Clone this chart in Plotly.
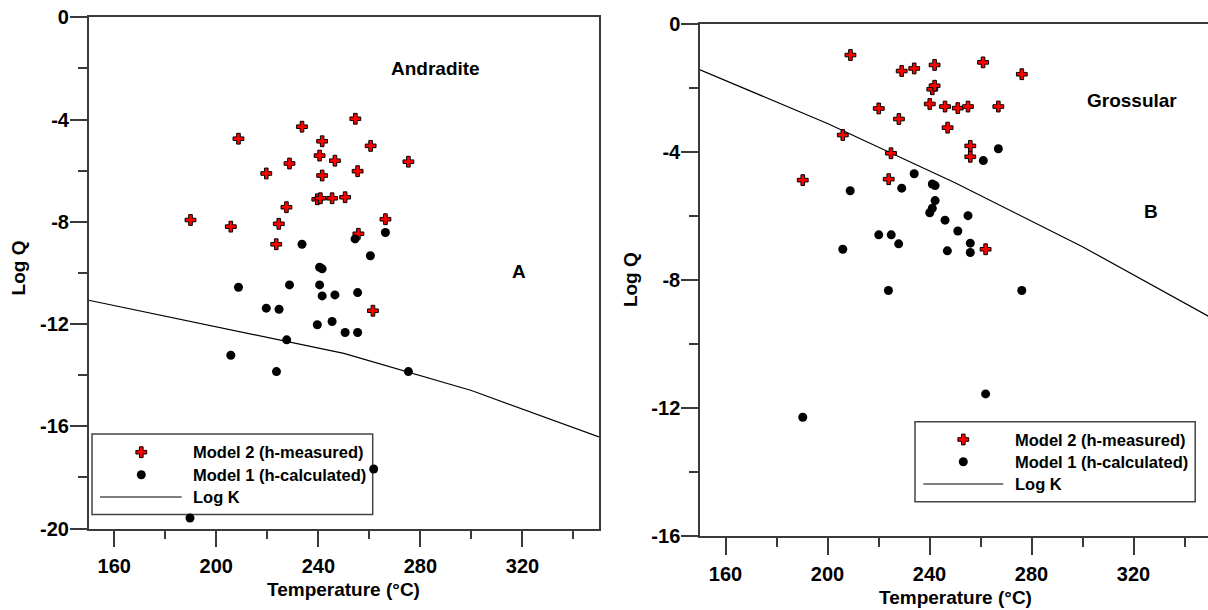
import plotly.graph_objects as go

W, H = 1208, 610

# ---------------- data ----------------
# Panel A: Andradite
and_m2_temp = [189.9, 205.7, 208.7, 219.6, 223.5, 224.5, 227.5, 228.7, 233.6, 239.6, 240.8, 240.5,
               241.5, 241.5, 245.4, 246.5, 250.5, 254.5, 255.4, 255.7, 260.5, 261.4, 266.3, 275.3]
and_m2_logq = [-7.93, -8.19, -4.75, -6.11, -8.88, -8.08, -7.43, -5.72, -4.28, -7.12, -7.08, -5.41,
               -4.85, -6.19, -7.08, -5.61, -7.04, -3.97, -6.02, -8.47, -5.03, -11.48, -7.90, -5.65]
and_m1_temp = [189.7, 205.7, 208.7, 219.6, 223.6, 224.6, 227.6, 228.7, 233.6, 239.6, 240.5, 241.5,
               240.5, 241.5, 245.4, 246.5, 250.5, 254.4, 255.4, 255.4, 260.4, 261.7, 266.3, 275.3]
and_m1_logq = [-19.59, -13.22, -10.56, -11.38, -13.86, -11.42, -12.62, -10.47, -8.88, -12.03, -9.78, -9.84,
               -10.47, -10.90, -11.90, -10.86, -12.33, -8.67, -10.77, -12.33, -9.33, -17.67, -8.42, -13.86]

# Panel B: Grossular
gro_m2_temp = [190.3, 206.0, 209.0, 220.1, 224.0, 224.9, 228.0, 229.1, 234.0, 240.1, 241.1, 242.0,
               242.0, 246.1, 247.1, 251.1, 255.1, 256.0, 256.0, 261.0, 262.0, 267.0, 276.2]
gro_m2_logq = [-4.87, -3.46, -0.96, -2.63, -4.84, -4.03, -2.96, -1.46, -1.38, -2.49, -2.03, -1.92,
               -1.27, -2.57, -3.23, -2.62, -2.57, -3.80, -4.14, -1.19, -7.03, -2.57, -1.56]
gro_m1_temp = [190.3, 206.0, 208.9, 220.1, 223.9, 225.0, 227.9, 229.1, 234.0, 240.1, 241.1, 241.1,
               242.2, 242.2, 246.1, 247.0, 251.1, 255.1, 256.0, 256.0, 261.1, 262.0, 267.0, 276.2]
gro_m1_logq = [-12.28, -7.03, -5.20, -6.58, -8.32, -6.58, -6.86, -5.12, -4.67, -5.89, -5.75, -4.99,
               -5.04, -5.51, -6.12, -7.08, -6.46, -5.98, -6.84, -7.13, -4.26, -11.55, -3.89, -8.32]

# Log K curves
logk_temp = [150, 200, 250, 300, 350]
logk_and = [-11.07, -12.10, -13.15, -14.60, -16.42]
logk_gro = [-1.42, -3.10, -4.95, -6.95, -9.15]

# tick labels (plain hyphen minus, as in the source)
x_tick_vals = [160, 200, 240, 280, 320]
x_tick_text = ["160", "200", "240", "280", "320"]
y_tick_vals_a = [0, -4, -8, -12, -16, -20]
y_tick_text_a = ["0", "-4", "-8", "-12", "-16", "-20"]
y_tick_vals_b = [0, -4, -8, -12, -16]
y_tick_text_b = ["0", "-4", "-8", "-12", "-16"]

series_names = ["Model 2 (h-measured)", "Model 1 (h-calculated)", "Log K"]

# ---------------- styling helpers ----------------
FONT = "Liberation Sans, Arial, sans-serif"
AXC = "#3a3a3a"


def px(x):
    return x / W


def py(y):
    return 1 - y / H


cross_marker = dict(symbol="cross", size=9, color="#ff0000", line=dict(color="black", width=1))
dot_marker = dict(symbol="circle", size=9, color="black", line=dict(width=0))

fig = go.Figure()

panels = [
    dict(xa="x", ya="y", logk=logk_and, m2=(and_m2_temp, and_m2_logq), m1=(and_m1_temp, and_m1_logq)),
    dict(xa="x2", ya="y2", logk=logk_gro, m2=(gro_m2_temp, gro_m2_logq), m1=(gro_m1_temp, gro_m1_logq)),
]
for p in panels:
    fig.add_trace(go.Scatter(x=logk_temp, y=p["logk"], mode="lines", line=dict(color="black", width=1.2),
                             xaxis=p["xa"], yaxis=p["ya"], showlegend=False, hoverinfo="skip"))
    fig.add_trace(go.Scatter(x=p["m2"][0], y=p["m2"][1], mode="markers", marker=cross_marker,
                             xaxis=p["xa"], yaxis=p["ya"], showlegend=False))
    fig.add_trace(go.Scatter(x=p["m1"][0], y=p["m1"][1], mode="markers", marker=dot_marker,
                             xaxis=p["xa"], yaxis=p["ya"], showlegend=False))


def xaxis_cfg(domain, rng):
    return dict(domain=domain, range=rng, showline=True, linecolor=AXC, linewidth=1.5, mirror=True,
                ticks="outside", ticklen=17, tickwidth=1.5, tickcolor=AXC,
                tickmode="array", tickvals=x_tick_vals, ticktext=x_tick_text,
                minor=dict(ticks="outside", ticklen=9, tickwidth=1.5, tickcolor=AXC, tick0=160, dtick=20),
                showgrid=False, zeroline=False, ticklabelstandoff=2, automargin=False,
                tickfont=dict(family=FONT, size=20, color="black", weight="bold"), fixedrange=True)


def yaxis_cfg(domain, rng, anchor, mirror, vals, text):
    return dict(domain=domain, range=rng, anchor=anchor, showline=True, linecolor=AXC, linewidth=1.5,
                mirror=mirror, ticks="outside", ticklen=17, tickwidth=1.5, tickcolor=AXC,
                tickmode="array", tickvals=vals, ticktext=text,
                minor=dict(ticks="outside", ticklen=9, tickwidth=1.5, tickcolor=AXC, tick0=0, dtick=2),
                showgrid=False, zeroline=False, ticklabelstandoff=-3, automargin=False,
                tickfont=dict(family=FONT, size=20, color="black", weight="bold"), fixedrange=True)


right_end = 150 + (W - 700) / 2.55

fig.update_layout(
    template="none",
    width=W, height=H, margin=dict(l=0, r=0, t=0, b=0, autoexpand=False),
    paper_bgcolor="white", plot_bgcolor="rgba(0,0,0,0)", showlegend=False,
    xaxis=dict(**xaxis_cfg([px(88.7), px(599)], [150, 350]), anchor="y"),
    yaxis=yaxis_cfg([py(528.5), py(17.3)], [-20, 0], "x", True, y_tick_vals_a, y_tick_text_a),
    xaxis2=dict(**xaxis_cfg([px(700), 1.0], [150, right_end]), anchor="y2"),
    yaxis2=yaxis_cfg([py(536.3), py(24.3)], [-16, 0], "x2", False, y_tick_vals_b, y_tick_text_b),
    xaxis3=dict(domain=[0, 1], range=[0, W], visible=False, anchor="y3", fixedrange=True, automargin=False),
    yaxis3=dict(domain=[0, 1], range=[H, 0], visible=False, anchor="x3", fixedrange=True, automargin=False),
)

# ---------------- manual legends ----------------
legends = [
    dict(box=(92, 434, 372.7, 514.5), sym_x=141.3, line=(100, 181.7), text_x=190.7, rows=(452.2, 474.7, 497)),
    dict(box=(915, 421.7, 1195.2, 501.7), sym_x=963.3, line=(923.3, 1003.3), text_x=1013.3, rows=(439.5, 461.7, 484)),
]
shapes = []
annotations = []
tf = dict(family=FONT, size=16.5, color="black", weight="bold")
for lg in legends:
    x0, y0, x1, y1 = lg["box"]
    shapes.append(dict(type="rect", xref="paper", yref="paper", x0=px(x0), x1=px(x1), y0=py(y1), y1=py(y0),
                       line=dict(color="#444", width=1.5), fillcolor="white", layer="below"))
    r = lg["rows"]
    shapes.append(dict(type="line", xref="paper", yref="paper", x0=px(lg["line"][0]), x1=px(lg["line"][1]),
                       y0=py(r[2]), y1=py(r[2]), line=dict(color="black", width=1.2), layer="below"))
    fig.add_trace(go.Scatter(x=[lg["sym_x"]], y=[r[0]], mode="markers", marker=cross_marker,
                             xaxis="x3", yaxis="y3", showlegend=False, hoverinfo="skip"))
    fig.add_trace(go.Scatter(x=[lg["sym_x"]], y=[r[1]], mode="markers", marker=dot_marker,
                             xaxis="x3", yaxis="y3", showlegend=False, hoverinfo="skip"))
    for name, yy in zip(series_names, r):
        annotations.append(dict(text=name, xref="paper", yref="paper", x=px(lg["text_x"]), y=py(yy),
                                xanchor="left", yanchor="middle", showarrow=False, font=tf))

# faint separator line seen in the source image
shapes.append(dict(type="line", xref="paper", yref="paper", x0=px(600.5), x1=px(600.5), y0=py(528), y1=py(15),
                   line=dict(color="#d8d8d8", width=1), layer="below"))

lf = dict(family=FONT, size=19, color="black", weight="bold")
# axis titles
for txt, x, y, ang in [("Temperature (°C)", 343.8, 589, 0), ("Temperature (°C)", 955, 597, 0),
                       ("Log Q", 18.4, 268, -90), ("Log Q", 629.9, 279.2, -90)]:
    annotations.append(dict(text=txt, xref="paper", yref="paper", x=px(x), y=py(y), xanchor="center",
                            yanchor="middle", showarrow=False, textangle=ang, font=lf))
# panel labels
for txt, xr, yr, x, y in [("Andradite", "x", "y", 285.9, -1.99), ("A", "x", "y", 318.5, -9.95),
                          ("Grossular", "x2", "y2", 319.4, -2.37), ("B", "x2", "y2", 326.7, -5.84)]:
    annotations.append(dict(text=txt, xref=xr, yref=yr, x=x, y=y, xanchor="center", yanchor="middle",
                            showarrow=False, font=lf))

fig.update_layout(shapes=shapes, annotations=annotations)
fig.write_html("out.html")
